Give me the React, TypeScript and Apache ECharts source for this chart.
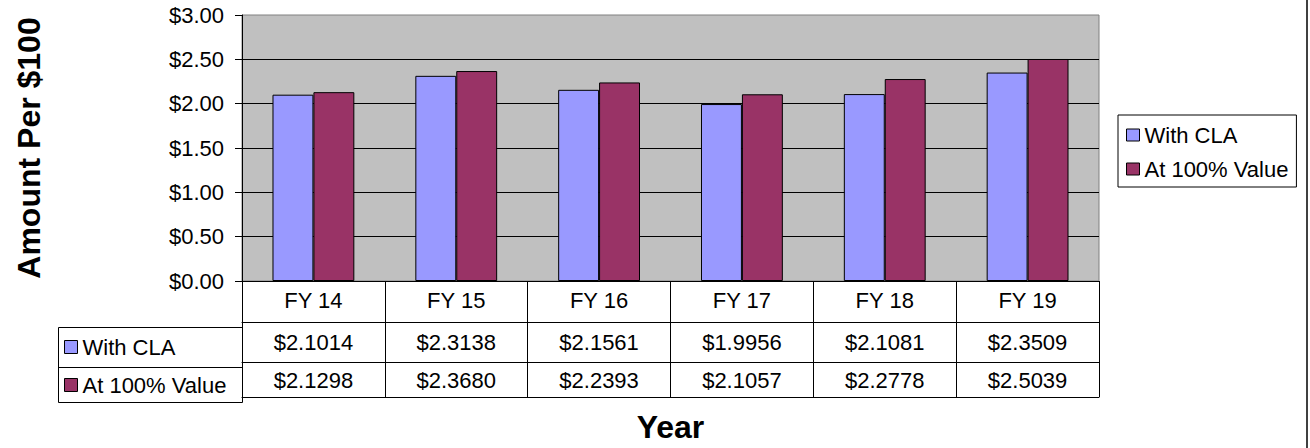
import React, { useEffect, useRef } from 'react';
import * as echarts from 'echarts';

const categories = ['FY 14', 'FY 15', 'FY 16', 'FY 17', 'FY 18', 'FY 19'];
const withCLA = [2.1014, 2.3138, 2.1561, 1.9956, 2.1081, 2.3509];
const at100 = [2.1298, 2.368, 2.2393, 2.1057, 2.2778, 2.5039];
const seriesNames = ['With CLA', 'At 100% Value'];
const seriesColors = ['#9999FF', '#993366'];

const W = 1310;
const H = 448;
const GRID = { left: 242, right: 211, top: 15, bottom: 162 };
const ROW1 = 41;
const ROW2 = 81;
const ROW3 = 116;
const TABLE_LEFT = 58;
const FONT = '"Liberation Sans", Arial, sans-serif';
const fmt = (v: number) => '$' + v.toFixed(4);

export default function App() {
  const ref = useRef<HTMLDivElement>(null);
  useEffect(() => {
    const chart = echarts.init(ref.current!, null, { renderer: 'svg', width: W, height: H });
    const plotBottom = H - GRID.bottom;
    const txt = { fontSize: 22, fontFamily: FONT, color: '#000' };
    const line = { lineStyle: { color: '#000', width: 1 } };
    const option: any = {
      animation: false,
      backgroundColor: '#fff',
      textStyle: { fontFamily: FONT },
      grid: { ...GRID, show: true, backgroundColor: '#C0C0C0', borderColor: '#808080', borderWidth: 1 },
      legend: [
        {
          data: seriesNames, orient: 'vertical', left: 1118, top: 115,
          padding: [9, 8, 7, 8], itemGap: 12, itemWidth: 13, itemHeight: 12, icon: 'rect',
          borderColor: '#000', borderWidth: 1, selectedMode: false,
          textStyle: { ...txt, lineHeight: 22 },
          itemStyle: { borderColor: '#000', borderWidth: 1 },
        },
        {
          data: seriesNames, orient: 'vertical', left: 64, top: plotBottom + ROW1 + 9,
          padding: 0, itemGap: 16, itemWidth: 13, itemHeight: 13, icon: 'rect', selectedMode: false,
          textStyle: { ...txt, lineHeight: 22 },
          itemStyle: { borderColor: '#000', borderWidth: 1 },
        },
      ],
      xAxis: [
        {
          type: 'category', data: categories, position: 'bottom',
          axisLine: line, axisTick: { show: true, length: ROW3, ...line },
          axisLabel: { ...txt, margin: 19, verticalAlign: 'middle' }, splitLine: { show: false },
        },
        {
          type: 'category', data: withCLA.map(fmt), position: 'bottom', offset: ROW1,
          axisLine: line, axisTick: { show: false },
          axisLabel: { ...txt, margin: 20, verticalAlign: 'middle' }, splitLine: { show: false },
        },
        {
          type: 'category', data: at100.map(fmt), position: 'bottom', offset: ROW2,
          axisLine: line, axisTick: { show: false },
          axisLabel: { ...txt, margin: 18, verticalAlign: 'middle' }, splitLine: { show: false },
        },
        {
          type: 'category', data: categories, position: 'bottom', offset: ROW3,
          axisLine: line, axisTick: { show: false }, axisLabel: { show: false }, splitLine: { show: false },
          name: 'Year', nameLocation: 'middle', nameGap: 14,
          nameTextStyle: { fontSize: 32, fontWeight: 'bold', fontFamily: FONT, color: '#000' },
        },
      ],
      yAxis: {
        type: 'value', min: 0, max: 3, interval: 0.5,
        axisLine: { show: true, ...line }, axisTick: { show: true, length: 7, ...line },
        axisLabel: { ...txt, margin: 18, formatter: (v: number) => '$' + v.toFixed(2) },
        splitLine: { show: true, showMaxLine: false, lineStyle: { color: '#000', width: 1 } },
        name: 'Amount Per $100', nameLocation: 'middle', nameRotate: 90, nameGap: 197,
        nameTextStyle: { fontSize: 32, fontWeight: 'bold', fontFamily: FONT, color: '#000' },
      },
      series: seriesNames.map((name, i) => ({
        type: 'bar', name, data: i === 0 ? withCLA : at100, xAxisIndex: 0,
        barGap: '0%', barCategoryGap: '42.7%',
        itemStyle: { color: seriesColors[i], borderColor: '#000', borderWidth: 1 },
      })),
      graphic: [
        {
          type: 'rect', silent: true,
          shape: { x: TABLE_LEFT + 0.5, y: plotBottom + ROW1 + 0.5, width: GRID.left - TABLE_LEFT, height: ROW3 - ROW1 },
          style: { fill: 'none', stroke: '#000', lineWidth: 1 },
        },
        {
          type: 'line', silent: true,
          shape: { x1: TABLE_LEFT, y1: plotBottom + ROW2 + 0.5, x2: GRID.left, y2: plotBottom + ROW2 + 0.5 },
          style: { stroke: '#000', lineWidth: 1 },
        },
        {
          type: 'line', silent: true,
          shape: { x1: 1307, y1: 0, x2: 1307, y2: H },
          style: { stroke: '#404040', lineWidth: 2 },
        },
      ],
    };
    chart.setOption(option);
    return () => chart.dispose();
  }, []);
  return <div ref={ref} style={{ position: 'fixed', left: 0, top: 0, width: W, height: H }} />;
}
